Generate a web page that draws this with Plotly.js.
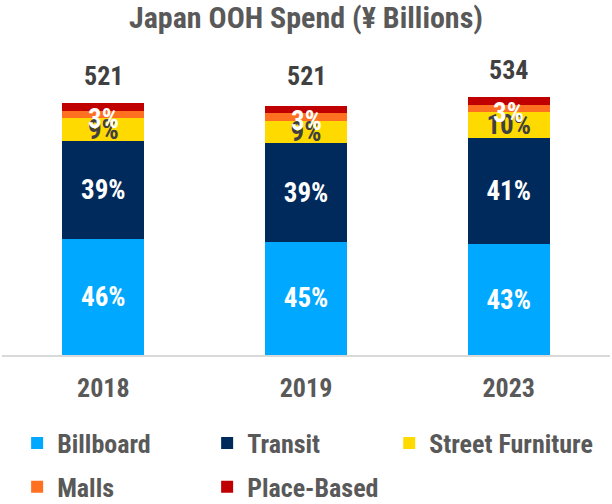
<!DOCTYPE html>
<html>
<head>
<meta charset="utf-8">
<script src="https://cdn.plot.ly/plotly-3.0.1.min.js"></script>
<style>html,body{margin:0;padding:0;background:#fff;}#chart{width:612px;height:504px;}</style>
</head>
<body>
<div id="chart"></div>
<script>
// Data (¥ billions totals and segment shares in %)
const years = ['2018', '2019', '2023'];
const totals = [521, 521, 534];
const billboardPct = [46, 45, 43];
const transitPct = [39, 39, 41];
const streetFurniturePct = [9, 9, 10];
const mallsPct = [3, 3, 3];
const placeBasedPct = [3, 3, 3];

const seriesNames = ['Billboard', 'Transit', 'Street Furniture', 'Malls', 'Place-Based'];
const seriesPct = [billboardPct, transitPct, streetFurniturePct, mallsPct, placeBasedPct];
const seriesColors = ['#00A8FF', '#002A5C', '#FFDA00', '#FF7020', '#C00000'];
const labelColors = ['#FFFFFF', '#FFFFFF', '#404040', '#FFFFFF', '#FFFFFF'];
// bar-text labels for the big segments; the Malls label is drawn as an annotation so it sits on top
const showLabel = [true, true, true, false, false];
const legendOf = ['legend', 'legend', 'legend3', 'legend2', 'legend2'];

const FONT = '"Roboto Condensed", "DejaVu Sans Condensed", sans-serif';

const seriesValues = seriesPct.map(arr => arr.map((p, j) => totals[j] * p / 100));

const traces = seriesNames.map((name, i) => ({
  type: 'bar',
  name: name,
  x: years,
  y: seriesValues[i],
  text: showLabel[i] ? seriesPct[i].map(p => p + '%') : undefined,
  textposition: showLabel[i] ? 'inside' : 'none',
  insidetextanchor: 'middle',
  textangle: 0,
  constraintext: 'none',
  textfont: {family: FONT, size: 27, color: labelColors[i], weight: 'bold'},
  marker: {color: seriesColors[i], line: {width: 0}},
  legend: legendOf[i],
  hoverinfo: 'x+y+name'
}));

// category axis: annotation x given as the category's serial index
const totalAnnotations = years.map((yr, j) => ({
  x: j, y: totals[j], xref: 'x', yref: 'y',
  text: String(totals[j]),
  showarrow: false, yanchor: 'middle', yshift: 27,
  font: {family: FONT, size: 26, color: '#404040', weight: 'bold'}
}));
const mallsAnnotations = years.map((yr, j) => ({
  x: j,
  y: seriesValues[0][j] + seriesValues[1][j] + seriesValues[2][j] + seriesValues[3][j] / 2,
  xref: 'x', yref: 'y',
  text: mallsPct[j] + '%',
  showarrow: false, yanchor: 'middle', yshift: -4,
  font: {family: FONT, size: 27, color: labelColors[3], weight: 'bold'}
}));

const legendCommon = {
  orientation: 'h', xref: 'container', yref: 'container',
  xanchor: 'left', yanchor: 'middle',
  entrywidth: 145, entrywidthmode: 'pixels',
  font: {family: FONT, size: 26, color: '#595959', weight: 'bold'},
  bgcolor: 'rgba(0,0,0,0)', itemclick: false, itemdoubleclick: false,
  traceorder: 'normal'
};

const layout = {
  width: 612, height: 504,
  paper_bgcolor: '#ffffff', plot_bgcolor: '#ffffff',
  margin: {l: 2, r: 2, t: 65, b: 149, autoexpand: false},
  barmode: 'stack',
  bargap: 0.595,
  title: {
    text: 'Japan OOH Spend (¥ Billions)',
    font: {family: FONT, size: 30, color: '#595959', weight: 'bold'},
    x: 0.5, xanchor: 'center', y: 0.965, yanchor: 'middle', yref: 'container'
  },
  xaxis: {
    type: 'category', range: [-0.5, years.length - 0.5],
    showline: true, linecolor: '#D9D9D9', linewidth: 2,
    ticks: '', showgrid: false, zeroline: false,
    tickfont: {family: FONT, size: 26, color: '#595959', weight: 'bold'},
    ticklabelstandoff: 9
  },
  yaxis: {
    range: [0, 600], visible: false, showgrid: false, zeroline: false
  },
  uniformtext: {mode: 'show', minsize: 27},
  legend: Object.assign({}, legendCommon, {x: 0.028, y: 0.121}),
  legend2: Object.assign({}, legendCommon, {x: 0.028, y: 0.034}),
  legend3: Object.assign({}, legendCommon, {x: 0.636, y: 0.121, entrywidth: 0}),
  annotations: totalAnnotations.concat(mallsAnnotations),
  showlegend: true
};

Plotly.newPlot('chart', traces, layout, {staticPlot: true, displayModeBar: false});
</script>
</body>
</html>
